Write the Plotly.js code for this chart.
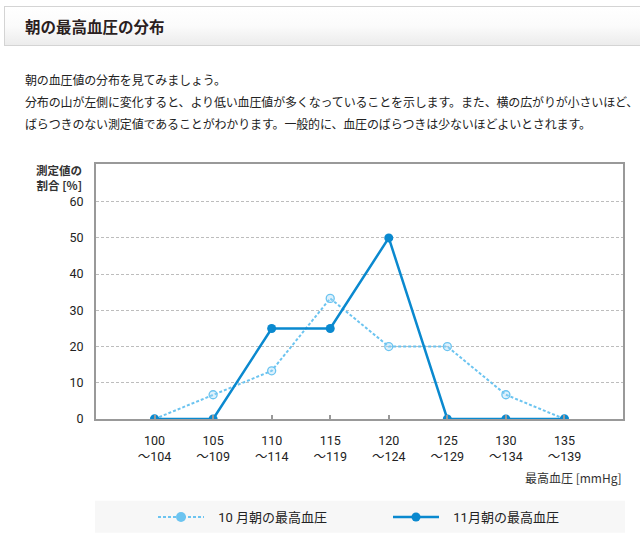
<!DOCTYPE html>
<html>
<head>
<meta charset="utf-8">
<script src="https://cdn.plot.ly/plotly-3.0.1.min.js"></script>
<style>
html,body{margin:0;padding:0;background:#fff;width:640px;height:538px;overflow:hidden;}
#chart{position:absolute;left:0;top:0;width:640px;height:538px;}
#head{position:absolute;left:4px;top:6px;width:636px;height:40px;border:1px solid #d4d4d4;border-right:none;
  background:linear-gradient(#ffffff 0%,#fbfbfb 50%,#ececec 100%);z-index:2;box-sizing:border-box;}
#head span{position:absolute;left:20px;top:9px;font:bold 15.5px "Noto Sans CJK JP",sans-serif;color:#2b1f1f;line-height:20px;}
#body{position:absolute;left:25px;top:69px;width:612px;font:12px "Noto Sans CJK JP",sans-serif;color:#222;line-height:22px;letter-spacing:-0.15px;z-index:2;white-space:nowrap;}
</style>
</head>
<body>
<div id="chart"></div>
<div id="head"><span>朝の最高血圧の分布</span></div>
<div id="body">朝の血圧値の分布を見てみましょう。<br>分布の山が左側に変化すると、より低い血圧値が多くなっていることを示します。また、横の広がりが小さいほど、<br>ばらつきのない測定値であることがわかります。一般的に、血圧のばらつきは少ないほどよいとされます。</div>
<script>
var binLow = ['100','105','110','115','120','125','130','135'];
var binHigh = ['104','109','114','119','124','129','134','139'];
var octName = '10 月朝の最高血圧';
var novName = '11月朝の最高血圧';
var octValues = [0, 6.7, 13.3, 33.3, 20, 20, 6.7, 0];
var novValues = [0, 0, 25, 25, 50, 0, 0, 0];
var yTickVals = [0, 10, 20, 30, 40, 50, 60];
var yTitle = '測定値の<br>割合 [%]';
var xTitle = '最高血圧 [mmHg]';

var idx = binLow.map(function(_, i){ return i; });
var tickText = binLow.map(function(v, i){ return v + '<br>～' + binHigh[i]; });
var pad = '\u2002\u2009';

var lightBlue = '#6cc4f0';
var darkBlue = '#0a89cf';
var font = 'Roboto, "Noto Sans CJK JP", sans-serif';

var traces = [
  { x:[null], y:[null], name: pad + octName, mode:'lines+markers', showlegend:true,
    line:{color:lightBlue, width:2, dash:'3px,2px'},
    marker:{color:lightBlue, size:10, symbol:'circle'} , hoverinfo:'skip'},
  { x: idx, y: octValues, name: octName, mode:'lines+markers', showlegend:false,
    line:{color:lightBlue, width:2, dash:'3px,2px'},
    marker:{color:'rgba(160,215,245,0.35)', size:8, symbol:'circle', line:{color:lightBlue, width:1.3}} },
  { x: idx, y: novValues, name: pad + novName, mode:'lines+markers', showlegend:true,
    line:{color:darkBlue, width:2.5},
    marker:{color:darkBlue, size:9, symbol:'circle'} }
];

var layout = {
  width:640, height:538,
  margin:{l:96, r:17, t:164, b:119, pad:0},
  paper_bgcolor:'#fff', plot_bgcolor:'#fff',
  font:{family:font, size:12.5, color:'#222'},
  showlegend:true,
  xaxis:{
    range:[-1, 8], tickmode:'array', tickvals: idx, ticktext: tickText,
    showgrid:false, zeroline:false,
    showline:true, mirror:true, linecolor:'#999', linewidth:2,
    ticks:'inside', ticklen:4, tickwidth:2, tickcolor:'#999',
    ticklabelstandoff:9,
    tickfont:{family:font, size:12.5, color:'#222'}, fixedrange:true
  },
  yaxis:{
    range:[0, 70.4], tickmode:'array', tickvals: yTickVals,
    showgrid:true, gridcolor:'#bdbdbd', gridwidth:1, griddash:'3px,2px',
    zeroline:false, showline:true, mirror:true, linecolor:'#999', linewidth:2,
    ticks:'', ticklabelstandoff:8,
    tickfont:{family:font, size:12.5, color:'#222'}, fixedrange:true
  },
  legend:{
    orientation:'h', xref:'container', yref:'container',
    x: 153/640, y: 1 - 517/538, xanchor:'left', yanchor:'middle',
    bgcolor:'rgba(0,0,0,0)', font:{family:font, size:13, color:'#222'},
    entrywidth:174, entrywidthmode:'pixels', itemwidth:46
  },
  shapes:[
    {type:'rect', xref:'paper', yref:'paper', x0:-1/527, x1:529/527, y0:-113.7/255, y1:-81.7/255,
     fillcolor:'#f7f7f7', line:{width:0}, layer:'below'}
  ],
  annotations:[
    {text: yTitle, xref:'paper', yref:'paper', x:0, y:(419-177.5)/255, xanchor:'right', yanchor:'middle',
     xshift:-12, showarrow:false, align:'right', font:{family:'"Noto Sans CJK JP", sans-serif', size:11.5, color:'#333', weight:'bold'}},
    {text: xTitle, xref:'paper', yref:'paper', x:1, y:-58.7/255, xanchor:'right', yanchor:'middle',
     xshift:1, showarrow:false, font:{family:'"Noto Sans CJK JP", sans-serif', size:12, color:'#333'}}
  ]
};

Plotly.newPlot('chart', traces, layout, {staticPlot:true, displayModeBar:false});
</script>
</body>
</html>
